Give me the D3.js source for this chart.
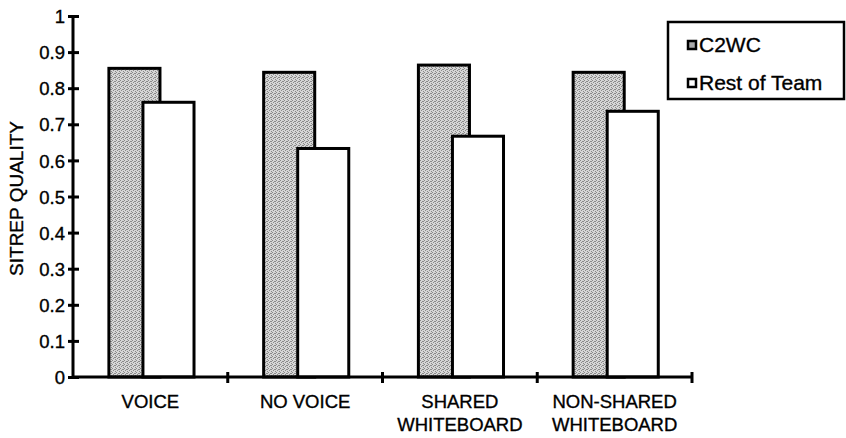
<!DOCTYPE html>
<html>
<head>
<meta charset="utf-8">
<script src="https://cdn.jsdelivr.net/npm/d3@7"></script>
<style>
  body { margin: 0; background: #fff; }
  text { font-family: "Liberation Sans", Arial, sans-serif; fill: #000; stroke: #000; stroke-width: 0.35px; }
</style>
</head>
<body>
<svg id="chart" width="846" height="438"></svg>
<script>
let categories = [["VOICE"], ["NO VOICE"], ["SHARED", "WHITEBOARD"], ["NON-SHARED", "WHITEBOARD"]];
let seriesNames = ["C2WC", "Rest of Team"];
let c2wc = [0.855, 0.844, 0.864, 0.844];
let restOfTeam = [0.761, 0.633, 0.667, 0.736];
let yTicks = [0, 0.1, 0.2, 0.3, 0.4, 0.5, 0.6, 0.7, 0.8, 0.9, 1];

let margin = { left: 73, top: 16, right: 154, bottom: 61 };
let width = 846, height = 438;
let svg = d3.select("#chart");

// stipple pattern for the C2WC bars
let defs = svg.append("defs");
let pat = defs.append("pattern")
  .attr("id", "stipple")
  .attr("width", 4).attr("height", 4)
  .attr("patternUnits", "userSpaceOnUse");
pat.append("rect").attr("width", 4).attr("height", 4).attr("fill", "#d6d6d6");
[[0, 0], [2, 1], [1, 2], [3, 3], [3, 1]].forEach(([x, y]) => {
  pat.append("rect").attr("x", x).attr("y", y).attr("width", 1).attr("height", 1).attr("fill", "#8a8a8a");
});

let x = d3.scaleBand()
  .domain(d3.range(categories.length))
  .range([margin.left, width - margin.right]);
let y = d3.scaleLinear().domain([0, 1]).range([height - margin.bottom, margin.top]);

// overlapping series offsets inside a band
let bw = x.bandwidth();
let sub = d3.scalePoint().domain(seriesNames).range([bw * 0.232, bw * 0.452]);
let barW = bw * 0.33;

let rows = [];
seriesNames.forEach((s, si) => {
  let vals = si == 0 ? c2wc : restOfTeam;
  vals.forEach((v, i) => rows.push({ s, i, v }));
});

svg.append("g")
  .selectAll("rect")
  .data(rows)
  .join("rect")
  .attr("x", (d) => x(d.i) + sub(d.s))
  .attr("y", (d) => y(d.v))
  .attr("width", barW)
  .attr("height", (d) => y(0) - y(d.v))
  .attr("fill", (d) => (d.s == "C2WC" ? "url(#stipple)" : "#fff"))
  .attr("stroke", "#000")
  .attr("stroke-width", 3);

// y axis
let yAxis = svg.append("g").attr("transform", `translate(${margin.left},0)`)
  .call(d3.axisLeft(y).tickValues(yTicks).tickSize(0).tickFormat((d) => d3.format("")(+d.toFixed(1))));
yAxis.select(".domain").remove();
yAxis.append("line")
  .attr("y1", y(1) - 1).attr("y2", y(0) + 1)
  .attr("stroke", "#000").attr("stroke-width", 3);
yAxis.selectAll(".tick").append("line")
  .attr("x1", -5).attr("x2", 6)
  .attr("stroke", "#000").attr("stroke-width", 3);
yAxis.selectAll(".tick text")
  .attr("x", -8)
  .attr("dy", "0.36em")
  .style("font-size", "18.5px");

// x axis
let xAxis = svg.append("g").attr("transform", `translate(0,${y(0)})`);
xAxis.append("line")
  .attr("x1", margin.left - 1).attr("x2", width - margin.right)
  .attr("stroke", "#000").attr("stroke-width", 3);
xAxis.selectAll("line.tk")
  .data(d3.range(1, categories.length + 1))
  .join("line")
  .attr("class", "tk")
  .attr("x1", (d) => (d < categories.length ? x(d) : x(d - 1) + bw))
  .attr("x2", (d) => (d < categories.length ? x(d) : x(d - 1) + bw))
  .attr("y1", -5).attr("y2", 6)
  .attr("stroke", "#000").attr("stroke-width", 3);

xAxis.selectAll("text")
  .data(categories)
  .join("text")
  .attr("text-anchor", "middle")
  .attr("transform", (d, i) => `translate(${x(i) + bw / 2},0)`)
  .style("font-size", "18.5px")
  .selectAll("tspan")
  .data((d) => d)
  .join("tspan")
  .attr("x", 0)
  .attr("y", (d, j) => 31 + j * 23)
  .text((d) => d);

// y label
svg.append("text")
  .attr("transform", `translate(23,${(y(0) + y(1)) / 2 + 2}) rotate(-90)`)
  .attr("text-anchor", "middle")
  .style("font-size", "19px")
  .text("SITREP QUALITY");

// legend
let lg = svg.append("g").attr("transform", "translate(668,22)");
lg.append("rect")
  .attr("width", 176).attr("height", 77)
  .attr("fill", "#fff").attr("stroke", "#000").attr("stroke-width", 2.5);
let items = lg.selectAll("g.item")
  .data(seriesNames)
  .join("g")
  .attr("class", "item")
  .attr("transform", (d, i) => `translate(20,${30 + i * 38})`);
items.append("rect")
  .attr("x", 0).attr("y", -11)
  .attr("width", 8).attr("height", 8)
  .attr("fill", (d) => (d == "C2WC" ? "#aaa" : "#fff"))
  .attr("stroke", "#000").attr("stroke-width", 2.5);
items.append("text")
  .attr("x", 11)
  .style("font-size", "21px")
  .text((d) => d);
</script>
</body>
</html>
